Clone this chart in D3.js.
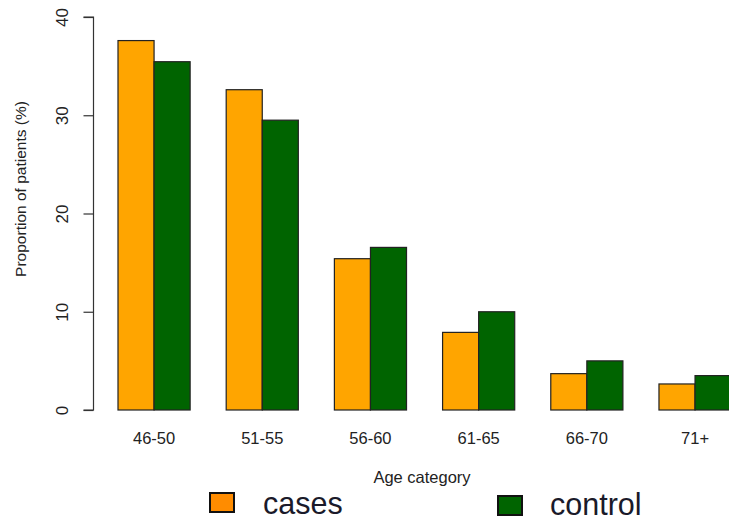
<!DOCTYPE html>
<html>
<head>
<meta charset="utf-8">
<script src="https://cdn.jsdelivr.net/npm/d3@7"></script>
<style>
  html, body { margin: 0; padding: 0; background: #fff; }
  svg { display: block; font-family: "Liberation Sans", Arial, sans-serif; }
</style>
</head>
<body>
<svg id="chart" width="729" height="522"></svg>
<script>
const categories = ["46-50", "51-55", "56-60", "61-65", "66-70", "71+"];
const seriesNames = ["cases", "control"];
const casesValues = [37.6, 32.6, 15.4, 7.9, 3.7, 2.65];
const controlValues = [35.45, 29.5, 16.55, 10.0, 5.0, 3.5];
const yTicks = [0, 10, 20, 30, 40];
const barColors = ["#FFA500", "#006400"];
const legendColors = ["#FF8C00", "#006400"];
const xTitle = "Age category";
const yTitle = "Proportion of patients (%)";

const svg = d3.select("#chart");
const textColor = "#222";

const y = d3.scaleLinear().domain([0, 40]).range([410, 17]);
const x0 = d3.scaleBand().domain(categories).range([118, 731.1]).paddingInner(1/3).paddingOuter(0);
const x1 = d3.scaleBand().domain(seriesNames).range([0, x0.bandwidth()]).padding(0);

const data = categories.map((c, i) => ({ cat: c, values: [casesValues[i], controlValues[i]] }));

// bars
const g = svg.append("g");
const groups = g.selectAll("g.grp").data(data).join("g")
  .attr("transform", d => `translate(${x0(d.cat)},0)`);
groups.selectAll("rect").data(d => d.values.map((v, j) => ({ name: seriesNames[j], v, j })))
  .join("rect")
  .attr("x", d => x1(d.name))
  .attr("y", d => y(d.v))
  .attr("width", x1.bandwidth())
  .attr("height", d => y(0) - y(d.v))
  .attr("fill", d => barColors[d.j])
  .attr("stroke", "#222")
  .attr("stroke-width", 1.2);

// y axis
const yAxis = d3.axisLeft(y).tickValues(yTicks).tickSize(10).tickPadding(0).tickFormat(d3.format("d"));
const ya = svg.append("g").attr("transform", "translate(93.5,0)").call(yAxis);
ya.select(".domain").attr("stroke", "#333").attr("stroke-width", 1.2).attr("d", `M-10,${y(40)}H0V${y(0)}H-10`);
ya.selectAll(".tick line").attr("stroke", "#333").attr("stroke-width", 1.2);
ya.selectAll(".tick text")
  .attr("fill", textColor)
  .attr("font-size", 17)
  .attr("text-anchor", "middle")
  .attr("x", null).attr("dy", null)
  .attr("transform", "translate(-25.5,0) rotate(-90)");

// x labels (no axis line, like R barplot)
svg.append("g").selectAll("text").data(categories).join("text")
  .attr("x", d => x0(d) + x0.bandwidth() / 2)
  .attr("y", 444)
  .attr("text-anchor", "middle")
  .attr("font-size", 16.5)
  .attr("fill", textColor)
  .text(d => d);

// axis titles
svg.append("text")
  .attr("x", 422).attr("y", 483)
  .attr("text-anchor", "middle")
  .attr("font-size", 16.5)
  .attr("fill", textColor)
  .text(xTitle);

svg.append("text")
  .attr("transform", "translate(26,189) rotate(-90)")
  .attr("text-anchor", "middle")
  .attr("font-size", 15.5)
  .attr("fill", textColor)
  .text(yTitle);

// legend
const legendPos = [{ bx: 210, by: 493, tx: 263, ty: 514 }, { bx: 498, by: 496, tx: 550, ty: 515 }];
const lg = svg.append("g").selectAll("g").data(seriesNames).join("g");
lg.append("rect")
  .attr("x", (d, i) => legendPos[i].bx)
  .attr("y", (d, i) => legendPos[i].by)
  .attr("width", 24).attr("height", 19)
  .attr("fill", (d, i) => legendColors[i])
  .attr("stroke", "#111").attr("stroke-width", 2);
lg.append("text")
  .attr("x", (d, i) => legendPos[i].tx)
  .attr("y", (d, i) => legendPos[i].ty)
  .attr("font-size", 30.5)
  .attr("fill", "#1a1a2a")
  .text(d => d);
</script>
</body>
</html>
